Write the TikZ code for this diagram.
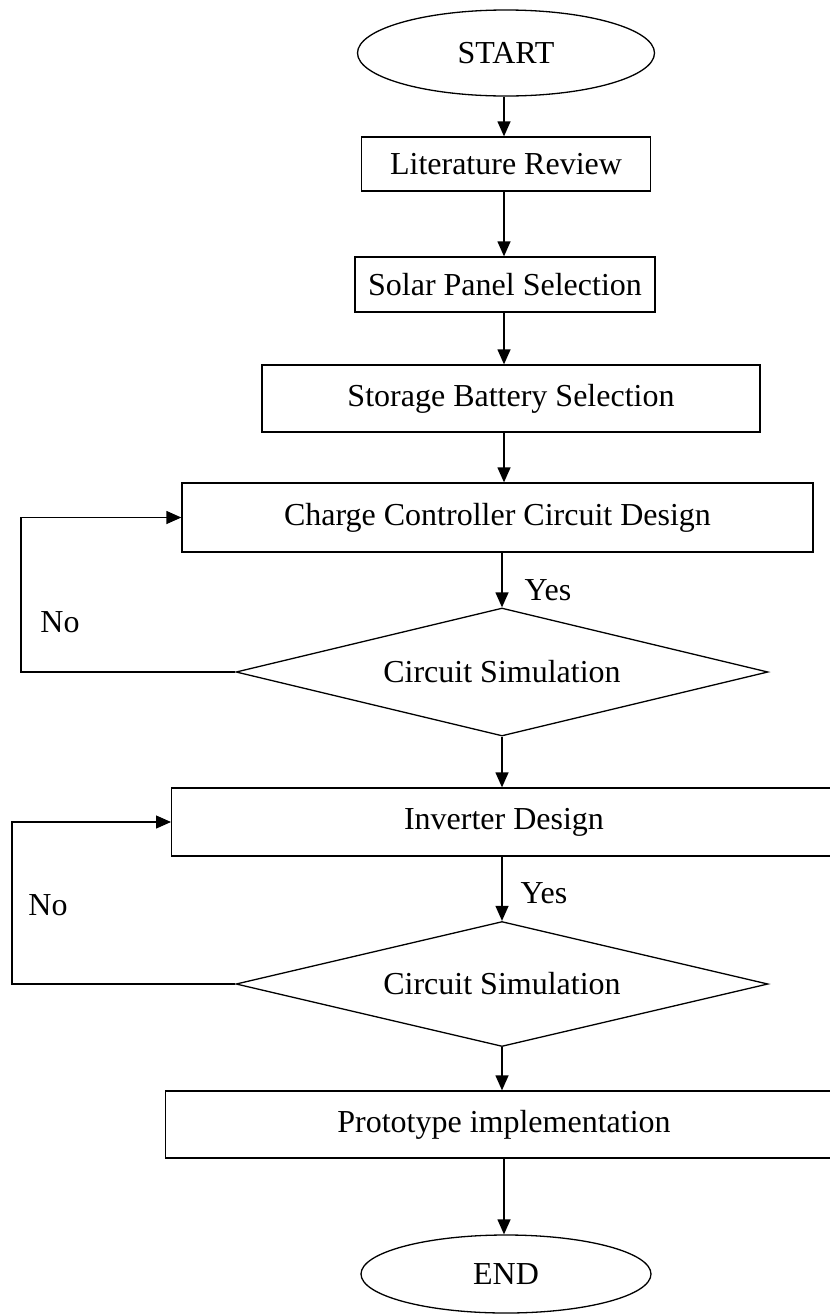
\documentclass[tikz,border=0pt]{standalone}
\usepackage{fontspec}
\setmainfont{Liberation Serif}
\usetikzlibrary{arrows.meta, shapes.geometric}

\tikzset{
  block/.style={draw, rectangle, line width=1.3pt, inner sep=0pt, font=\fontsize{32}{38}\selectfont},
  term/.style={draw, ellipse, line width=1.3pt, inner sep=0pt, font=\fontsize{32}{38}\selectfont},
  decide/.style={draw, diamond, aspect=4.2, line width=1.3pt, inner sep=0pt,
    minimum width=532pt, font=\fontsize{32}{38}\selectfont},
  link/.style={-{Triangle[length=15pt,width=13pt]}, line width=1.3pt},
  lbl/.style={font=\fontsize{32}{38}\selectfont}
}

\begin{document}
\begin{tikzpicture}[x=1pt,y=-1pt]
\useasboundingbox (0,0) rectangle (830,1315);
\begin{scope}
    \coordinate (axis) at (504,0);
    \coordinate (backA) at (21,0);
    \coordinate (backB) at (12,0);

    \node[term, minimum width=297pt, minimum height=86pt] (S) at (506,53) {START};
    \node[block, minimum width=289pt, minimum height=54pt] (L) at (506,164) {Literature Review};
    \node[block, minimum width=300pt, minimum height=55pt] (P) at (505,284.5) {Solar Panel Selection};
    \node[block, minimum width=498pt, minimum height=67pt] (B) at (511,398.5) {Storage Battery Selection};
    \node[block, minimum width=631pt, minimum height=69pt] (C) at (497.5,517.5) {Charge Controller Circuit Design};
    \node[decide, minimum height=128pt] (X) at (502,672) {Circuit Simulation};
    \node[block, minimum width=680pt, minimum height=68pt, anchor=west] (I) at (171,822) {};
    \node[lbl] (It) at (I.center -| axis) {Inverter Design};
    \node[decide, minimum height=125pt] (Y) at (502,984) {Circuit Simulation};
    \node[block, minimum width=690pt, minimum height=67pt, anchor=west] (R) at (165,1124.5) {};
    \node[lbl] (Rt) at (R.center -| axis) {Prototype implementation};
    \node[term, minimum width=290pt, minimum height=78pt] (E) at (506,1274) {END};

    \node[lbl] (yesA) at (548,590) {Yes};
    \node[lbl] (yesB) at (544,893) {Yes};
    \node[lbl] (noA) at (60,622) {No};
    \node[lbl] (noB) at (48,905) {No};

    \path [link] (S.south -| axis) edge (L.north -| axis);
    \path [link] (L.south -| axis) edge (P.north -| axis);
    \path [link] (P.south -| axis) edge (B.north -| axis);
    \path [link] (B.south -| axis) edge (C.north -| axis);
    \path [link] (C.south -| X) edge (X.north);
    \path [link] (X.south) edge (I.north -| X);
    \path [link] (I.south -| Y) edge (Y.north);
    \path [link] (Y.south) edge (R.north -| Y);
    \path [link] (R.south -| axis) edge (E.north -| axis);

    \draw [link] (X.west) -- (X.west -| backA) |- (C.west);
    \draw [link] (Y.west) -- (Y.west -| backB) |- (I.west);
\end{scope}
\end{tikzpicture}
\end{document}
